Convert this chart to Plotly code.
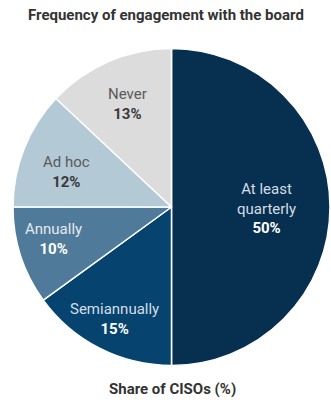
import math
import plotly.graph_objects as go

# Survey data: how often CISOs engage with the board
categories = ["At least<br>quarterly", "Semiannually", "Annually", "Ad hoc", "Never"]
shares = [50, 15, 10, 12, 13]
slice_colors = ["#072f4f", "#06436f", "#4f7a99", "#b3c9d6", "#dcdcdc"]
name_colors = ["#d3dde6", "#d3dde6", "#e3eaf0", "#5a5a5a", "#5a5a5a"]
pct_colors = ["#ffffff", "#ffffff", "#ffffff", "#3a3a3a", "#3a3a3a"]

# Label placement inside each wedge: fraction of radius and small angular nudge (deg)
label_radius = [0.60, 0.79, 0.77, 0.70, 0.705]
label_nudge = [1, 0, 3, -3, 0]

W, H = 331, 402
dom_x = [13 / W, 330 / W]
dom_y = [1 - 367 / H, 1 - 47 / H]

fig = go.Figure(
    go.Pie(
        labels=categories,
        values=shares,
        sort=False,
        direction="clockwise",
        rotation=0,
        marker=dict(colors=slice_colors, line=dict(color="white", width=1.5)),
        textinfo="none",
        hoverinfo="skip",
        showlegend=False,
        domain=dict(x=dom_x, y=dom_y),
    )
)

# Pie geometry in pixels (radius fits the smaller domain side)
cx_px = (dom_x[0] + dom_x[1]) / 2 * W
cy_px = (1 - (dom_y[0] + dom_y[1]) / 2) * H
radius_px = min((dom_x[1] - dom_x[0]) * W, (dom_y[1] - dom_y[0]) * H) / 2

annotations = []
total = sum(shares)
cum = 0
for i, (name, val) in enumerate(zip(categories, shares)):
    mid = (cum + val / 2) / total * 360 + label_nudge[i]
    cum += val
    rad = math.radians(mid)
    px = cx_px + label_radius[i] * radius_px * math.sin(rad)
    py = cy_px - label_radius[i] * radius_px * math.cos(rad)
    annotations.append(
        dict(
            text=(
                f"<span style='color:{name_colors[i]}'>{name}</span><br>"
                f"<span style='color:{pct_colors[i]}'><b>{val}%</b></span>"
            ),
            x=px / W, y=1 - py / H, xref="paper", yref="paper",
            showarrow=False, xanchor="center", yanchor="middle",
            align="center",
            font=dict(family="Roboto", size=15),
        )
    )

annotations += [
    dict(
        text="<b>Frequency of engagement with the board</b>",
        x=0.5, y=1 - 15 / H, xref="paper", yref="paper",
        showarrow=False, xanchor="center", yanchor="middle",
        font=dict(family="Roboto", size=15, color="#333333"),
    ),
    dict(
        text="<b>Share of CISOs (%)</b>",
        x=172 / W, y=1 - 389 / H, xref="paper", yref="paper",
        showarrow=False, xanchor="center", yanchor="middle",
        font=dict(family="Roboto", size=15, color="#333333"),
    ),
]

fig.update_layout(
    width=W,
    height=H,
    margin=dict(l=0, r=0, t=0, b=0),
    paper_bgcolor="white",
    plot_bgcolor="white",
    annotations=annotations,
)

fig.write_html("out.html")
